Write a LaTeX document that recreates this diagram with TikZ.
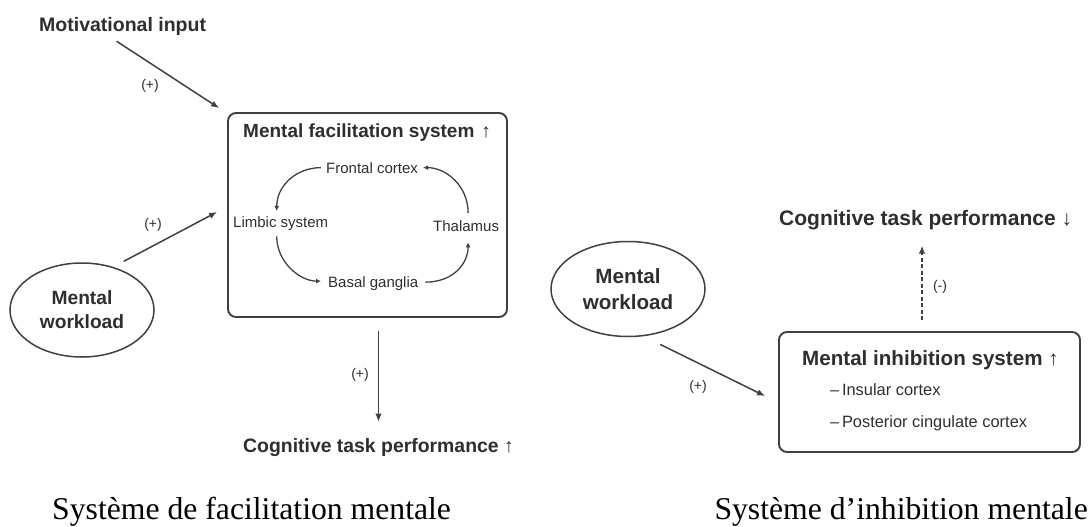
\documentclass[tikz,border=0pt]{standalone}
\usepackage{fontspec}
\setmainfont{Liberation Sans}
\newfontfamily\capfont{Liberation Serif}
\usetikzlibrary{arrows.meta,shapes.geometric,calc}
\newcommand\fsz[1]{\fontsize{#1}{#1}\selectfont}
\definecolor{ink}{gray}{0.18}
\definecolor{linecol}{gray}{0.25}
\begin{document}
\begin{tikzpicture}[x=1pt,y=-1pt,
  txt/.style={inner sep=0pt, text=ink},
  small/.style={txt, font=\fsz{15}},
  lab/.style={txt, font=\fsz{14}},
  sysbox/.style={draw=linecol, line width=1.9pt, rounded corners=8pt, inner sep=0pt},
  ell/.style={draw=linecol, line width=1.5pt, ellipse, inner sep=0pt, text=ink, align=center},
  arr/.style={draw=linecol, line width=1.5pt, -{Latex[length=8pt,width=6.5pt]}},
  cyc/.style={draw=linecol, line width=1.3pt, -{Latex[length=5pt,width=5pt]}}]
\path[use as bounding box] (0,0) rectangle (1089,527);

% ---------- left diagram ----------
\node[txt, anchor=base west, font=\bfseries\fsz{19.5}] (mot) at (39,32) {Motivational input};
\node[sysbox, minimum width=279pt, minimum height=204pt] (fac) at (367.5,215) {};
\node[txt, anchor=base west, font=\bfseries\fsz{19}] (fach) at (243,137) {Mental facilitation system\hspace{7pt}↑};
\node[small, anchor=base west] (front) at (326,173) {Frontal cortex};
\node[small, anchor=base west] (limb) at (233,227) {Limbic system};
\node[small, anchor=base west] (thal) at (433,231) {Thalamus};
\node[small, anchor=base west] (basal) at (328,287) {Basal ganglia};
\node[ell, minimum width=144pt, minimum height=94pt, font=\bfseries\fontsize{19.2}{24}\selectfont] (wl1) at (82,310) {Mental\\workload};
\node[txt, anchor=base west, font=\bfseries\fsz{19.4}] (perf1) at (243,452) {Cognitive task performance ↑};

\node[lab] (l1) at (150,86) {(+)};
\node[lab] (l2) at (153,225) {(+)};
\node[lab] (l3) at (360,375) {(+)};

\draw[arr] ($(mot.south)+(-6,5)$) -- ($(fac.north west)+(-8,-4)$);
\draw[arr] ($(wl1.60)+(16,-4)$) -- ($(fac.west)+(-10,-3)$);
\draw[arr] ($(fac.south -| perf1.north)+(0,13)$) -- ($(perf1.north)+(0,-16)$);

\draw[cyc] ($(front.west)+(-5,0)$) .. controls ($(front.west)+(-30,0)$) and ($(limb.north)+(-4,-30)$) .. ($(limb.north)+(-4,-5)$);
\draw[cyc] ($(limb.south)+(-4,6)$) .. controls ($(limb.south)+(-4,32)$) and ($(basal.west)+(-28,-2)$) .. ($(basal.west)+(-7,-2)$);
\draw[cyc] ($(basal.east)+(7,-1)$) .. controls ($(basal.east)+(35,-1)$) and ($(thal.south)+(2,32)$) .. ($(thal.south)+(2,11)$);
\draw[cyc] ($(thal.north)+(2,-7)$) .. controls ($(thal.north)+(2,-34)$) and ($(front.east)+(28,0)$) .. ($(front.east)+(5,0)$);

% ---------- right diagram ----------
\node[ell, minimum width=154pt, minimum height=95pt, font=\bfseries\fontsize{20.6}{26}\selectfont] (wl2) at (628,289) {Mental\\workload};
\node[txt, anchor=base west, font=\bfseries\fsz{21}] (perf2) at (779,225) {Cognitive task performance ↓};
\node[sysbox, minimum width=301pt, minimum height=120pt] (inh) at (929.5,392) {};
\node[txt, anchor=base west, font=\bfseries\fsz{20.6}] (inhh) at (802,365) {Mental inhibition system ↑};
\node[txt, anchor=base west, font=\fsz{16.4}] (ins) at (830,395) {–\,Insular cortex};
\node[txt, anchor=base west, font=\fsz{16.4}] (pcc) at (830,427) {–\,Posterior cingulate cortex};

\node[lab] (l4) at (698,387) {(+)};
\node[lab] (l5) at (940,287) {(-)};

\draw[arr] ($(wl2.-60)+(6,10)$) -- ($(inh.west)+(-13,4)$);
\draw[arr, dash pattern=on 4pt off 2.5pt] ($(inh.north)+(-7.5,-11)$) -- ($(perf2.south -| inh.north)+(-7.5,16)$);

% ---------- captions ----------
\node[txt, text=black, anchor=base west, font=\capfont\fsz{31.7}] (cap1) at (52,519) {Système de facilitation mentale};
\node[txt, text=black, anchor=base east, font=\capfont\fsz{31.7}] (cap2) at (1088,519) {Système d’inhibition mentale};
\end{tikzpicture}
\end{document}
